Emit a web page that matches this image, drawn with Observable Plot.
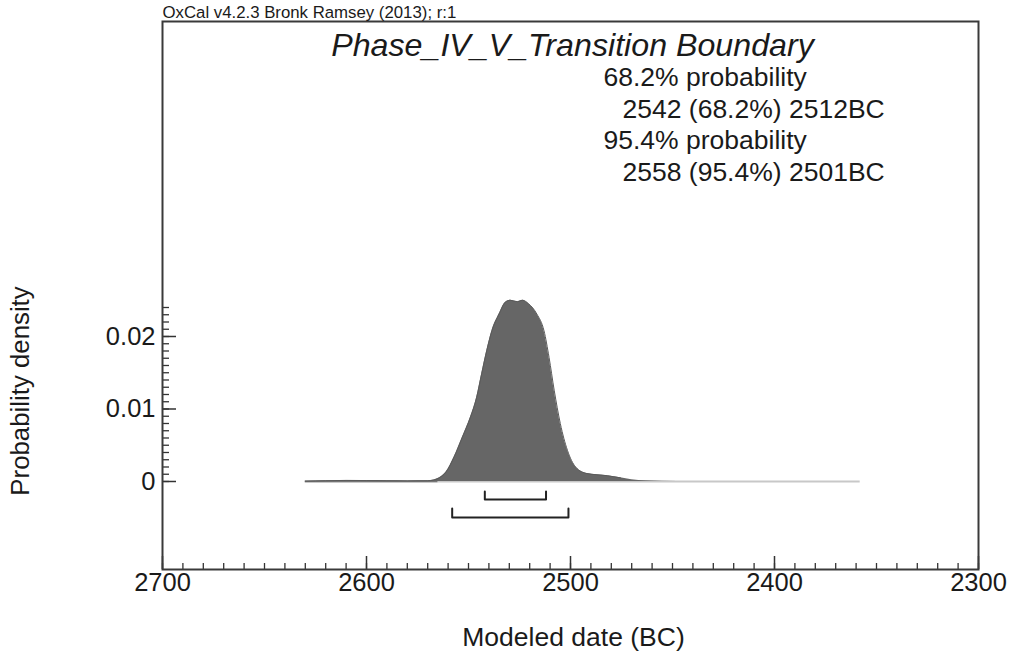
<!DOCTYPE html>
<html>
<head>
<meta charset="utf-8">
<script src="https://cdn.jsdelivr.net/npm/d3@7"></script>
<script src="https://cdn.jsdelivr.net/npm/@observablehq/plot@0.6"></script>
<style>
  html, body { margin: 0; padding: 0; background: #fff; }
  #chart { width: 1019px; height: 655px; }
</style>
</head>
<body>
<div id="chart"></div>
<script>
// ---- data ----
const headerText = "OxCal v4.2.3 Bronk Ramsey (2013); r:1";
const titleText = "Phase_IV_V_Transition Boundary";
const infoLines = [
  "68.2% probability",
  "2542 (68.2%) 2512BC",
  "95.4% probability",
  "2558 (95.4%) 2501BC"
];
const xLabel = "Modeled date (BC)";
const yLabel = "Probability density";

const years = [2630, 2620, 2610, 2600, 2590, 2580, 2570, 2567, 2565, 2561, 2557, 2553, 2549, 2546,
  2543.5, 2541, 2538.5, 2535, 2532, 2529.5, 2526, 2523.5, 2520.5, 2516.5, 2513, 2510.5, 2508,
  2505, 2501.5, 2497.5, 2492, 2482, 2475.5, 2470, 2463, 2455, 2440, 2358];
const density = [0.00004, 0.0001, 0.00015, 0.00013, 0.0001, 0.00008, 0.0001, 0.0002, 0.0004, 0.0013,
  0.0034, 0.0061, 0.0089, 0.0116, 0.0149, 0.0181, 0.0208, 0.0231, 0.0247, 0.0250, 0.0248, 0.0250,
  0.0245, 0.0231, 0.0208, 0.0171, 0.0126, 0.0080, 0.0043, 0.0020, 0.0011, 0.0008, 0.0005, 0.00025,
  0.0001, 0.00004, 0.00001, 0];

// highest-posterior-density ranges: [from, to] BC
const range68 = [2542, 2512];
const range95 = [2558, 2501];

const xTicks = [2700, 2600, 2500, 2400, 2300];
const yTicks = [0, 0.01, 0.02];
const yTickLabels = ["0", "0.01", "0.02"];

// ---- layout ----
const W = 1019, H = 655;
const mL = 162, mR = 41, mT = 21, mB = 86;
const frameW = W - mL - mR, frameH = H - mT - mB;
const yDomain = [-0.01214, 0.06345];
const yPerPx = (yDomain[1] - yDomain[0]) / frameH;
const px = p => -p * yPerPx; // pixel offset below the zero line -> data units

const curve = years.map((y, i) => ({year: y, d: density[i]}));
const minorX = d3.range(2700, 2299, -10);
const minorY = d3.range(0, 0.0245, 0.001);

function bracket(r, top, bottom) {
  return [
    {x: r[0], y: px(top)}, {x: r[0], y: px(bottom)},
    {x: r[1], y: px(bottom)}, {x: r[1], y: px(top)}
  ];
}

const ink = "#1a1a1a";
const font = "'Liberation Sans', Arial, Helvetica, sans-serif";

const chart = Plot.plot({
  width: W, height: H,
  marginLeft: mL, marginRight: mR, marginTop: mT, marginBottom: mB,
  style: {fontFamily: font, color: ink, background: "#fff", overflow: "visible"},
  x: {domain: [2700, 2300], axis: null},
  y: {domain: yDomain, axis: null},
  marks: [
    // baseline tail of the distribution
    Plot.ruleY([0], {x1: years[0], x2: years[years.length - 1], stroke: "#c8c8c8", strokeWidth: 2}),
    Plot.ruleY([0], {x1: years[0], x2: years[8], stroke: "#777", strokeWidth: 1.5}),
    Plot.areaY(curve, {x: "year", y: "d", fill: "#666", curve: "monotone-x"}),
    Plot.lineY(curve.filter(d => d.year > 2470), {x: "year", y: "d", stroke: "#5a5a5a", strokeWidth: 1, curve: "monotone-x"}),
    // ranges
    Plot.line(bracket(range68, 10, 18), {x: "x", y: "y", stroke: "#222", strokeWidth: 2}),
    Plot.line(bracket(range95, 27, 36), {x: "x", y: "y", stroke: "#222", strokeWidth: 2}),
    // ticks (inward)
    Plot.tickX(minorX, {x: d => d, insetTop: frameH - 6, stroke: "#333", strokeWidth: 1.3}),
    Plot.tickX(xTicks, {x: d => d, insetTop: frameH - 13, stroke: "#333", strokeWidth: 1.5}),
    Plot.tickY(minorY, {y: d => d, insetRight: frameW - 7, stroke: "#333", strokeWidth: 1.3}),
    Plot.tickY(yTicks, {y: d => d, insetRight: frameW - 14, stroke: "#333", strokeWidth: 1.5}),
    Plot.frame({stroke: "#3a3a3a", strokeWidth: 2}),
    // tick labels
    Plot.text(xTicks, {x: d => d, text: d => String(d), frameAnchor: "bottom", lineAnchor: "bottom", dy: 21, fontSize: 25.5, fill: ink}),
    Plot.text(yTicks, {y: d => d, text: (d, i) => yTickLabels[i], frameAnchor: "left", textAnchor: "end", dx: -7, fontSize: 25.5, fill: ink}),
    // axis labels
    Plot.text([xLabel], {text: d => d, frameAnchor: "bottom", lineAnchor: "bottom", dx: 3, dy: 76, fontSize: 26.5, fill: ink}),
    Plot.text([yLabel], {text: d => d, y: px(-90.5), frameAnchor: "left", textAnchor: "middle", rotate: -90, dx: -142, fontSize: 25.8, fill: ink}),
    // header, title, summary
    Plot.text([headerText], {text: d => d, frameAnchor: "top-left", textAnchor: "start", lineAnchor: "bottom", dy: -4, fontSize: 16.8, fill: ink}),
    Plot.text([titleText], {text: d => d, frameAnchor: "top", lineAnchor: "bottom", dx: 2, dy: 34, fontSize: 32.2, fontStyle: "italic", fill: ink}),
    Plot.text([infoLines[0]], {text: d => d, frameAnchor: "top-left", textAnchor: "start", lineAnchor: "bottom", dx: 441, dy: 64, fontSize: 26.5, fill: ink}),
    Plot.text([infoLines[1]], {text: d => d, frameAnchor: "top-left", textAnchor: "start", lineAnchor: "bottom", dx: 460, dy: 96, fontSize: 26.5, fill: ink}),
    Plot.text([infoLines[2]], {text: d => d, frameAnchor: "top-left", textAnchor: "start", lineAnchor: "bottom", dx: 441, dy: 127, fontSize: 26.5, fill: ink}),
    Plot.text([infoLines[3]], {text: d => d, frameAnchor: "top-left", textAnchor: "start", lineAnchor: "bottom", dx: 460, dy: 159, fontSize: 26.5, fill: ink})
  ]
});
document.getElementById("chart").appendChild(chart);
</script>
</body>
</html>
